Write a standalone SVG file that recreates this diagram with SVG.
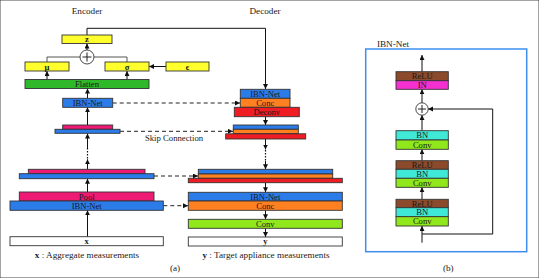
<svg xmlns="http://www.w3.org/2000/svg" width="539" height="278" viewBox="0 0 539 278">
<style>
text{font-family:"Liberation Serif","Times New Roman",serif;fill:#1a1a1a;text-anchor:middle}
.lbl{font-size:8.6px}
.b{font-weight:bold}
.cap{font-size:9.2px}
rect{stroke:#333;stroke-width:0.9}
.yel{fill:#ffff2e}
.grn{fill:#2fb82a}
.blu{fill:#2b7ce9}
.pnk{fill:#ee1b74}
.org{fill:#ff8020}
.red{fill:#f01c24}
.lgr{fill:#90e81c}
.wht{fill:#fff}
.brn{fill:#8b4a2b}
.mag{fill:#f530d0}
.cyn{fill:#40e8d8}
.ln{fill:none;stroke:#111;stroke-width:1}
.gl{fill:none;stroke:#555;stroke-width:1}
.dash{fill:none;stroke:#222;stroke-width:1;stroke-dasharray:4 3}
.dot{fill:none;stroke:#111;stroke-width:1.2;stroke-dasharray:1.5 1.5}
</style>
<defs>
<marker id="ah" markerUnits="userSpaceOnUse" markerWidth="6" markerHeight="6" refX="5" refY="2.5" orient="auto">
<path d="M0,0 L5,2.5 L0,5 z" fill="#111"/>
</marker>
</defs>
<rect x="0" y="0" width="539" height="278" fill="#fff" stroke="none"/>
<text class="cap" x="87" y="14">Encoder</text>
<text class="cap" x="265" y="14">Decoder</text>
<text class="cap" x="174" y="140.5" style="font-size:8.7px">Skip Connection</text>

<g id="connectors">
<polyline class="ln" points="87,35 87,28.3 265.5,28.3 265.5,89" marker-end="url(#ah)"/>
<line class="ln" x1="87" y1="50" x2="87" y2="43.5" marker-end="url(#ah)"/>
<polyline class="gl" points="47,62 47,57 80,57"/>
<polyline class="gl" points="127,62 127,57 94,57"/>
<line class="ln" x1="166" y1="66.5" x2="149" y2="66.5" marker-end="url(#ah)"/>
<line class="ln" x1="47" y1="79.5" x2="47" y2="71" marker-end="url(#ah)"/>
<line class="ln" x1="127" y1="79.5" x2="127" y2="71" marker-end="url(#ah)"/>
<line class="ln" x1="87.5" y1="98.3" x2="87.5" y2="88.5" marker-end="url(#ah)"/>
<line class="ln" x1="87.5" y1="125" x2="87.5" y2="107.3" marker-end="url(#ah)"/>
<line class="ln" x1="87.5" y1="148" x2="87.5" y2="133.5" marker-end="url(#ah)"/>
<line class="dot" x1="87.5" y1="148" x2="87.5" y2="159"/>
<line class="ln" x1="87.5" y1="169.3" x2="87.5" y2="159.3" marker-end="url(#ah)"/>
<line class="ln" x1="87.5" y1="192" x2="87.5" y2="178.7" marker-end="url(#ah)"/>
<line class="ln" x1="87.5" y1="236.7" x2="87.5" y2="210.3" marker-end="url(#ah)"/>
<line class="dash" x1="112.7" y1="103" x2="240" y2="103" marker-end="url(#ah)"/>
<line class="dash" x1="120" y1="131.3" x2="233" y2="131.3" marker-end="url(#ah)"/>
<line class="dash" x1="154" y1="176" x2="198" y2="176" marker-end="url(#ah)"/>
<line class="dash" x1="163.3" y1="205.7" x2="188" y2="205.7" marker-end="url(#ah)"/>
<line class="ln" x1="265.5" y1="116.7" x2="265.5" y2="125" marker-end="url(#ah)"/>
<line class="ln" x1="265.5" y1="139" x2="265.5" y2="149.5" marker-end="url(#ah)"/>
<line class="dot" x1="265.5" y1="150" x2="265.5" y2="161"/>
<line class="ln" x1="265.5" y1="161" x2="265.5" y2="169.3" marker-end="url(#ah)"/>
<line class="ln" x1="265.5" y1="182.7" x2="265.5" y2="192.3" marker-end="url(#ah)"/>
<line class="ln" x1="265.5" y1="210.3" x2="265.5" y2="219.3" marker-end="url(#ah)"/>
<line class="ln" x1="265.5" y1="228.3" x2="265.5" y2="237" marker-end="url(#ah)"/>
<line class="ln" x1="422" y1="71.7" x2="422" y2="55" marker-end="url(#ah)"/>
<line class="ln" x1="422" y1="103" x2="422" y2="89.3" marker-end="url(#ah)"/>
<line class="ln" x1="422" y1="130.7" x2="422" y2="115" marker-end="url(#ah)"/>
<line class="ln" x1="422" y1="160.7" x2="422" y2="149.3" marker-end="url(#ah)"/>
<line class="ln" x1="422" y1="199.3" x2="422" y2="187.3" marker-end="url(#ah)"/>
<line class="ln" x1="422" y1="242.7" x2="422" y2="226" marker-end="url(#ah)"/>
<polyline class="ln" points="422,234 492.7,234 492.7,109 428,109" marker-end="url(#ah)"/>
</g>

<g id="enc-z"><rect class="yel" x="62" y="35" width="50" height="8.5"/><text class="lbl b" x="87" y="42.3">z</text></g>
<g id="enc-plus"><circle cx="87" cy="57" r="7" fill="#fff" stroke="#333" stroke-width="0.9"/><path d="M82.5,57 H91.5 M87,52.5 V61.5" stroke="#222" stroke-width="1" fill="none"/></g>
<g id="enc-mu"><rect class="yel" x="25" y="62" width="44" height="9"/><text class="lbl b" x="47" y="69.5">μ</text></g>
<g id="enc-sigma"><rect class="yel" x="105" y="62" width="44" height="9"/><text class="lbl b" x="127" y="69.5">σ</text></g>
<g id="enc-eps"><rect class="yel" x="166" y="62" width="43" height="9"/><text class="lbl b" x="187.5" y="69.5">ϵ</text></g>
<g id="enc-flatten"><rect class="grn" x="25" y="79.5" width="124" height="9"/><text class="lbl" x="87" y="87">Flatten</text></g>
<g id="enc-ibn1"><rect class="blu" x="62.7" y="98.3" width="50" height="9"/><text class="lbl" x="87.7" y="105.8">IBN-Net</text></g>
<g id="enc-stack1"><rect class="pnk" x="62.7" y="125" width="50" height="4.3"/><rect class="blu" x="55" y="129.3" width="65" height="4"/></g>
<g id="enc-stack2"><rect class="pnk" x="28.3" y="169.3" width="116.7" height="4.4"/><rect class="blu" x="19.3" y="173.7" width="134.7" height="5"/></g>
<g id="enc-pool"><rect class="pnk" x="19.3" y="192" width="134.7" height="9"/><text class="lbl" x="86.7" y="199.5">Pool</text></g>
<g id="enc-ibn2"><rect class="blu" x="10" y="201" width="153.3" height="9.3"/><text class="lbl" x="86.7" y="208.6">IBN-Net</text></g>
<g id="enc-x"><rect class="wht" x="10" y="236.7" width="153.3" height="9"/><text class="lbl b" x="86.7" y="244.2">x</text></g>
<text class="cap" x="87" y="257.5"><tspan font-weight="bold">x</tspan> : Aggregate measurements</text>
<text class="cap" x="175" y="270.5">(a)</text>

<g id="dec-block1"><rect class="blu" x="240.3" y="89.3" width="49.7" height="9"/><text class="lbl" x="265.2" y="96.8">IBN-Net</text>
<rect class="org" x="240.3" y="98.3" width="49.7" height="9"/><text class="lbl" x="265.2" y="105.8">Conc</text>
<rect class="red" x="234.3" y="107.3" width="65" height="9.4"/><text class="lbl" x="266.8" y="114.9">Deconv</text></g>
<g id="dec-stack1"><rect class="blu" x="233.3" y="125" width="65" height="4.3"/><rect class="org" x="233.3" y="129.3" width="65" height="4.2"/><rect class="red" x="225.7" y="133.8" width="80" height="5.2"/></g>
<g id="dec-stack2"><rect class="blu" x="198.3" y="169.3" width="134.4" height="4.7"/><rect class="org" x="198.3" y="174" width="134.4" height="4.3"/><rect class="red" x="188.3" y="178.3" width="154" height="4.4"/></g>
<g id="dec-ibn"><rect class="blu" x="188.3" y="192.3" width="154" height="8.7"/><text class="lbl" x="265.3" y="199.6">IBN-Net</text></g>
<g id="dec-conc"><rect class="org" x="188.3" y="201" width="154" height="9.3"/><text class="lbl" x="265.3" y="208.6">Conc</text></g>
<g id="dec-conv"><rect class="lgr" x="188.3" y="219.3" width="154" height="9"/><text class="lbl" x="265.3" y="226.8">Conv</text></g>
<g id="dec-y"><rect class="wht" x="188.3" y="237" width="154" height="9"/><text class="lbl b" x="265.3" y="244.3">y</text></g>
<text class="cap" x="266" y="257.5"><tspan font-weight="bold">y</tspan> : Target appliance measurements</text>

<text class="cap" x="393" y="47">IBN-Net</text>
<rect x="365.7" y="49" width="161" height="202.7" fill="none" style="stroke:#3d8ef0;stroke-width:1.5"/>
<g id="ibn-out"><rect class="brn" x="396" y="71.7" width="52.3" height="9"/><text class="lbl" x="422.2" y="79">ReLU</text>
<rect class="mag" x="396" y="80.7" width="52.3" height="8.6"/><text class="lbl" x="422.2" y="88">IN</text></g>
<g id="ibn-plus"><circle cx="422" cy="109" r="6.2" fill="#fff" stroke="#333" stroke-width="0.9"/><path d="M418,109 H426 M422,105 V113" stroke="#222" stroke-width="1" fill="none"/></g>
<g id="ibn-b3"><rect class="cyn" x="396" y="130.7" width="52.3" height="9.3"/><text class="lbl" x="422.2" y="138.2">BN</text>
<rect class="lgr" x="396" y="140" width="52.3" height="9.3"/><text class="lbl" x="422.2" y="147.5">Conv</text></g>
<g id="ibn-b2"><rect class="brn" x="396" y="160.7" width="52.3" height="8.6"/><text class="lbl" x="422.2" y="168">ReLU</text>
<rect class="cyn" x="396" y="169.3" width="52.3" height="9"/><text class="lbl" x="422.2" y="176.7">BN</text>
<rect class="lgr" x="396" y="178.3" width="52.3" height="9"/><text class="lbl" x="422.2" y="185.7">Conv</text></g>
<g id="ibn-b1"><rect class="brn" x="396" y="199.3" width="52.3" height="8.4"/><text class="lbl" x="422.2" y="206.5">ReLU</text>
<rect class="cyn" x="396" y="207.7" width="52.3" height="9"/><text class="lbl" x="422.2" y="215.1">BN</text>
<rect class="lgr" x="396" y="216.7" width="52.3" height="9.3"/><text class="lbl" x="422.2" y="224.2">Conv</text></g>
<text class="cap" x="448.3" y="270.5">(b)</text>
</svg>
